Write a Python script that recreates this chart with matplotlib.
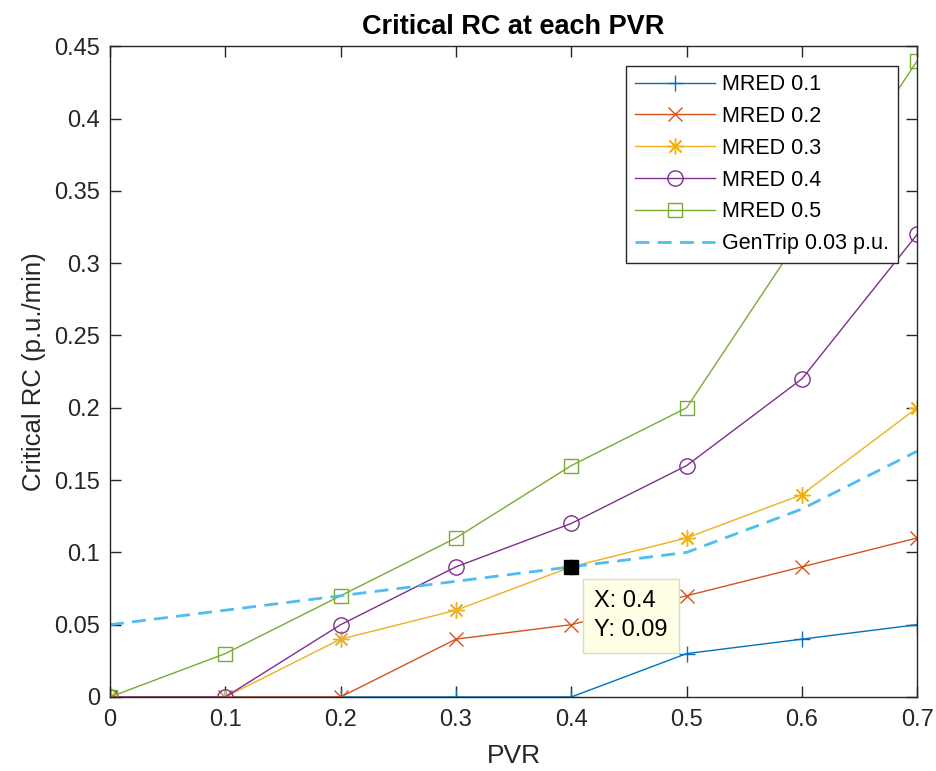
import matplotlib
matplotlib.use("Agg")
import matplotlib.pyplot as plt
from matplotlib.ticker import FuncFormatter

plt.rcParams['font.family'] = ['Liberation Sans', 'DejaVu Sans']

# --- data ---
pvr = [0, 0.1, 0.2, 0.3, 0.4, 0.5, 0.6, 0.7]
mred_01 = [0, 0, 0, 0, 0, 0.03, 0.04, 0.05]
mred_02 = [0, 0, 0, 0.04, 0.05, 0.07, 0.09, 0.11]
mred_03 = [0, 0, 0.04, 0.06, 0.09, 0.11, 0.14, 0.20]
mred_04 = [0, 0, 0.05, 0.09, 0.12, 0.16, 0.22, 0.32]
mred_05 = [0, 0.03, 0.07, 0.11, 0.16, 0.20, 0.32, 0.44]
gentrip = [0.05, 0.06, 0.07, 0.08, 0.09, 0.10, 0.13, 0.17]

tip_x, tip_y = 0.4, 0.09

# MATLAB-like asterisk: 8 spokes
asterisk = (8, 2, 0)

series = [
    ("MRED 0.1", mred_01, "#0072BD", "+", 12),
    ("MRED 0.2", mred_02, "#D95319", "x", 10),
    ("MRED 0.3", mred_03, "#EDB120", asterisk, 12),
    ("MRED 0.4", mred_04, "#7E2F8E", "o", 11),
    ("MRED 0.5", mred_05, "#77AC30", "s", 10),
]

fig = plt.figure(figsize=(9.36, 7.71), dpi=100)
ax = fig.add_axes([0.1175, 0.096, 0.8625, 0.844])

for label, vals, color, marker, ms in series:
    ax.plot(pvr, vals, color=color, marker=marker, markersize=ms,
            markerfacecolor='none', markeredgewidth=1.0, linewidth=1.0, label=label)

ax.plot(pvr, gentrip, color="#4DBEEE", linestyle=(0, (5, 3)), linewidth=2.0,
        label="GenTrip 0.03 p.u.")

# data tip
ax.plot([tip_x], [tip_y], marker='s', color='black', markersize=10, zorder=5)
ax.annotate(f"X: {tip_x:g}\nY: {tip_y:g}", xy=(tip_x, tip_y), xytext=(16.5, -16.5),
            textcoords='offset points', ha='left', va='top', fontsize=17,
            linespacing=1.45,
            bbox=dict(boxstyle='square,pad=0.47', facecolor='#FFFFE6',
                      edgecolor='#D9D9C8', linewidth=1.0), zorder=6)

ax.set_xlim(0, 0.7)
ax.set_ylim(0, 0.45)
ax.set_xticks(pvr)
ax.set_yticks([0, 0.05, 0.1, 0.15, 0.2, 0.25, 0.3, 0.35, 0.4, 0.45])
ax.xaxis.set_major_formatter(FuncFormatter(lambda v, p: f"{v:g}"))
ax.yaxis.set_major_formatter(FuncFormatter(lambda v, p: f"{v:g}"))
ax.tick_params(direction='in', length=8, width=1, top=True, right=True,
               labelsize=17, colors='#262626')
ax.tick_params(axis='x', pad=9)
ax.tick_params(axis='y', pad=7)
for s in ax.spines.values():
    s.set_color('#262626')
    s.set_linewidth(1.0)

ax.set_title("Critical RC at each PVR", fontsize=19.5, fontweight='bold', pad=9)
ax.set_xlabel("PVR", fontsize=19, color='#262626', labelpad=9)
ax.set_ylabel("Critical RC (p.u./min)", fontsize=18.5, color='#262626', labelpad=6)

leg = ax.legend(loc='upper right', fontsize=15.5, frameon=True, fancybox=False,
                edgecolor='#262626', framealpha=1, handlelength=3.7,
                borderaxespad=0.9, labelspacing=0.5, handletextpad=0.35,
                borderpad=0.4)
leg.get_frame().set_linewidth(1.0)

fig.savefig("out.png", dpi=100)
